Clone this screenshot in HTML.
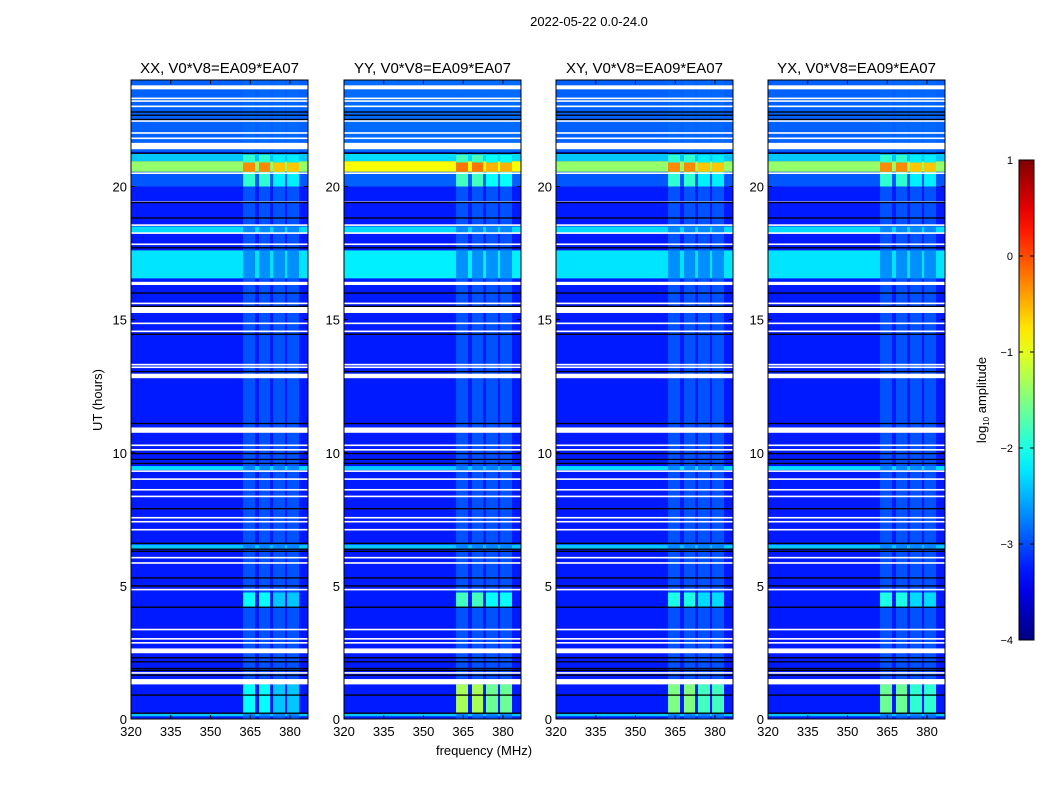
<!DOCTYPE html>
<html><head><meta charset="utf-8"><style>
body{margin:0;background:#fff;font-family:"Liberation Sans",sans-serif}
svg text{font-family:"Liberation Sans",sans-serif}
</style></head><body>
<svg id="fig" width="1050" height="800" xmlns="http://www.w3.org/2000/svg">
<rect width="1050" height="800" fill="#fff"/>
<text x="589" y="26" font-size="13" text-anchor="middle">2022-05-22 0.0-24.0</text>
<text x="484" y="755" font-size="13" text-anchor="middle">frequency (MHz)</text>
<text transform="translate(102,400) rotate(-90)" font-size="13" text-anchor="middle">UT (hours)</text>
<text transform="translate(986,400) rotate(-90)" font-size="13" text-anchor="middle">log<tspan font-size="8" dy="3">10</tspan><tspan dy="-3"> amplitude</tspan></text>
</svg>
<script>
const panelTitles=["XX, V0*V8=EA09*EA07","YY, V0*V8=EA09*EA07","XY, V0*V8=EA09*EA07","YX, V0*V8=EA09*EA07"];
const xTicks=[320,335,350,365,380];
const yTicks=[0,5,10,15,20];
const cbTicks=[-4,-3,-2,-1,0,1];
const backgroundLevel=-3.25;
// full-width bands
const bandStart=[21.3,20.95,20.55,20.0,18.25,16.55,9.35,6.4,0.1];
const bandEnd=[24,21.25,20.95,20.55,18.5,17.6,9.5,6.55,0.2];
const bandLevel=[-2.9,-2.4,-1.4,-2.95,-2.3,-2.25,-2.3,-2.4,-2.4];
const bandLevelYY=[-2.85,-2.3,-0.9,-2.9,-2.3,-2.2,-2.4,-2.4,-2.4];
// RFI channels (MHz)
const chanLo=[362.3,368.3,373.6,378.9];
const chanHi=[366.8,372.5,378.1,383.4];
const rfiDefault=-2.85;
// RFI events
const rfiStart=[20.0,20.55,4.2,0.2];
const rfiEnd=[21.2,20.9,4.75,1.3];
const rfiXX=[-1.9,-0.3,-2.1,-2.1];
const rfiYY=[-1.8,-0.2,-1.8,-1.3];
const rfiXY=[-1.9,-0.3,-2.0,-1.5];
const rfiYX=[-1.9,-0.3,-2.0,-1.6];
// flagged rows (white)
const flagStart=[23.65,23.28,23.18,22.98,22.43,21.98,21.78,21.58,21.4,20.47,19.38,18.52,18.22,17.8,16.3,15.58,15.25,14.83,14.53,13.28,13.18,12.8,10.75,10.25,10.08,9.28,8.98,8.58,8.33,7.53,7.38,7.08,6.03,5.83,4.83,3.33,2.98,2.83,2.47,1.7,1.3];
const flagEnd=[23.8,23.34,23.24,23.04,22.49,22.04,21.84,21.64,21.6,20.53,19.44,18.58,18.28,17.86,16.42,15.64,15.5,14.89,14.59,13.34,13.24,12.97,10.95,10.31,10.14,9.34,9.04,8.64,8.39,7.59,7.44,7.14,6.09,5.89,4.89,3.39,3.04,2.89,2.65,1.76,1.5];
// black lines (hours)
const blackRows=[22.8,22.68,22.52,21.25,19.4,18.82,17.7,16.0,15.5,14.45,13.05,11.1,9.97,9.75,9.6,7.9,6.6,6.38,6.3,5.3,5.0,4.2,2.3,2.15,1.9,1.83,1.65,0.9,0.22];

const panelX=[131,344,556,768], panelW=177, plotTop=80, plotBottom=719;
const xmin=320,xmax=386.8,ymin=0,ymax=24;
const NS="http://www.w3.org/2000/svg";
const svg=document.getElementById('fig');
function jet(v){let t=Math.max(0,Math.min(1,(v+4)/5));
 const f=x=>Math.max(0,Math.min(1,x));
 const r=f(1.5-Math.abs(4*t-3)),g=f(1.5-Math.abs(4*t-2)),b=f(1.5-Math.abs(4*t-1));
 return `rgb(${Math.round(r*255)},${Math.round(g*255)},${Math.round(b*255)})`;}
function mk(tag,attrs,parent){const e=document.createElementNS(NS,tag);for(const k in attrs)e.setAttribute(k,attrs[k]);(parent||svg).appendChild(e);return e;}
const rfiSets=[rfiXX,rfiYY,rfiXY,rfiYX];
panelX.forEach((px,p)=>{
 const sx=v=>px+(v-xmin)/(xmax-xmin)*panelW;
 const sy=h=>plotBottom-(h-ymin)/(ymax-ymin)*(plotBottom-plotTop);
 const g=mk('g',{});
 
 
 const bg=mk('rect',{x:px,y:plotTop,width:panelW,height:plotBottom-plotTop,fill:jet(backgroundLevel)},g);
 
 
 const lv=p===1?bandLevelYY:bandLevel;
 bandStart.forEach((s,i)=>{const r=mk('rect',{x:px,y:sy(bandEnd[i]),width:panelW,height:sy(bandStart[i])-sy(bandEnd[i]),fill:jet(lv[i])},g);
  
  });
 const rl=rfiSets[p];
 chanLo.forEach((c,ci)=>{
  const r=mk('rect',{x:sx(c),y:plotTop,width:sx(chanHi[ci])-sx(c),height:plotBottom-plotTop,fill:jet(rfiDefault),opacity:0.7},g);
  
  
  rfiStart.forEach((s,k)=>{const e=mk('rect',{x:sx(c),y:sy(rfiEnd[k]),width:sx(chanHi[ci])-sx(c),height:sy(s)-sy(rfiEnd[k]),fill:jet(rl[k]-(ci>=2?0.3:0))},g);
   
   });
 });
 flagStart.forEach((s,i)=>{const r=mk('rect',{x:px,y:sy(flagEnd[i]),width:panelW,height:Math.max(1.5,sy(s)-sy(flagEnd[i])),fill:'#fff'},g);
  
  });
 blackRows.forEach(h=>{const r=mk('rect',{x:px,y:sy(h)-0.6,width:panelW,height:1.3,fill:'#000'},g);
  
  });
 const fr=mk('rect',{x:px,y:plotTop,width:panelW,height:plotBottom-plotTop,fill:'none',stroke:'#000','stroke-width':1},g);
 
 
 const t=mk('text',{x:px+panelW/2,y:plotTop-7,'font-size':15,'text-anchor':'middle'},g);t.textContent=panelTitles[p];
 
 
 xTicks.forEach(v=>{const x=sx(v);
  mk('line',{x1:x,x2:x,y1:plotBottom,y2:plotBottom-4,stroke:'#000'},g);mk('line',{x1:x,x2:x,y1:plotTop,y2:plotTop+4,stroke:'#000'},g);
  const l=mk('text',{x:x,y:plotBottom+17,'font-size':13,'text-anchor':'middle'},g);l.textContent=v;
  
  });
 yTicks.forEach(v=>{const y=sy(v);
  mk('line',{x1:px,x2:px+4,y1:y,y2:y,stroke:'#000'},g);mk('line',{x1:px+panelW,x2:px+panelW-4,y1:y,y2:y,stroke:'#000'},g);
  const l=mk('text',{x:px-4,y:y+5,'font-size':13,'text-anchor':'end'},g);l.textContent=v;
  
  });
});
// colorbar
const cbX=1019,cbW=15,cbTop=160,cbBot=640;
const defs=mk('defs',{});const grad=mk('linearGradient',{id:'jetg',x1:0,y1:1,x2:0,y2:0},defs);
for(let i=0;i<=20;i++){const v=-4+5*i/20;mk('stop',{offset:i/20,'stop-color':jet(v)},grad);}
const cb=mk('rect',{x:cbX,y:cbTop,width:cbW,height:cbBot-cbTop,fill:'url(#jetg)',stroke:'#000'});


cbTicks.forEach(v=>{const y=cbBot-(v+4)/5*(cbBot-cbTop);
 mk('line',{x1:cbX,x2:cbX+4,y1:y,y2:y,stroke:'#000'});mk('line',{x1:cbX+cbW,x2:cbX+cbW-4,y1:y,y2:y,stroke:'#000'});
 const l=mk('text',{x:1013,y:y+4,'font-size':11,'text-anchor':'end'});l.textContent=v<0?'\u2212'+(-v):v;
 
 });
</script>
</body></html>
